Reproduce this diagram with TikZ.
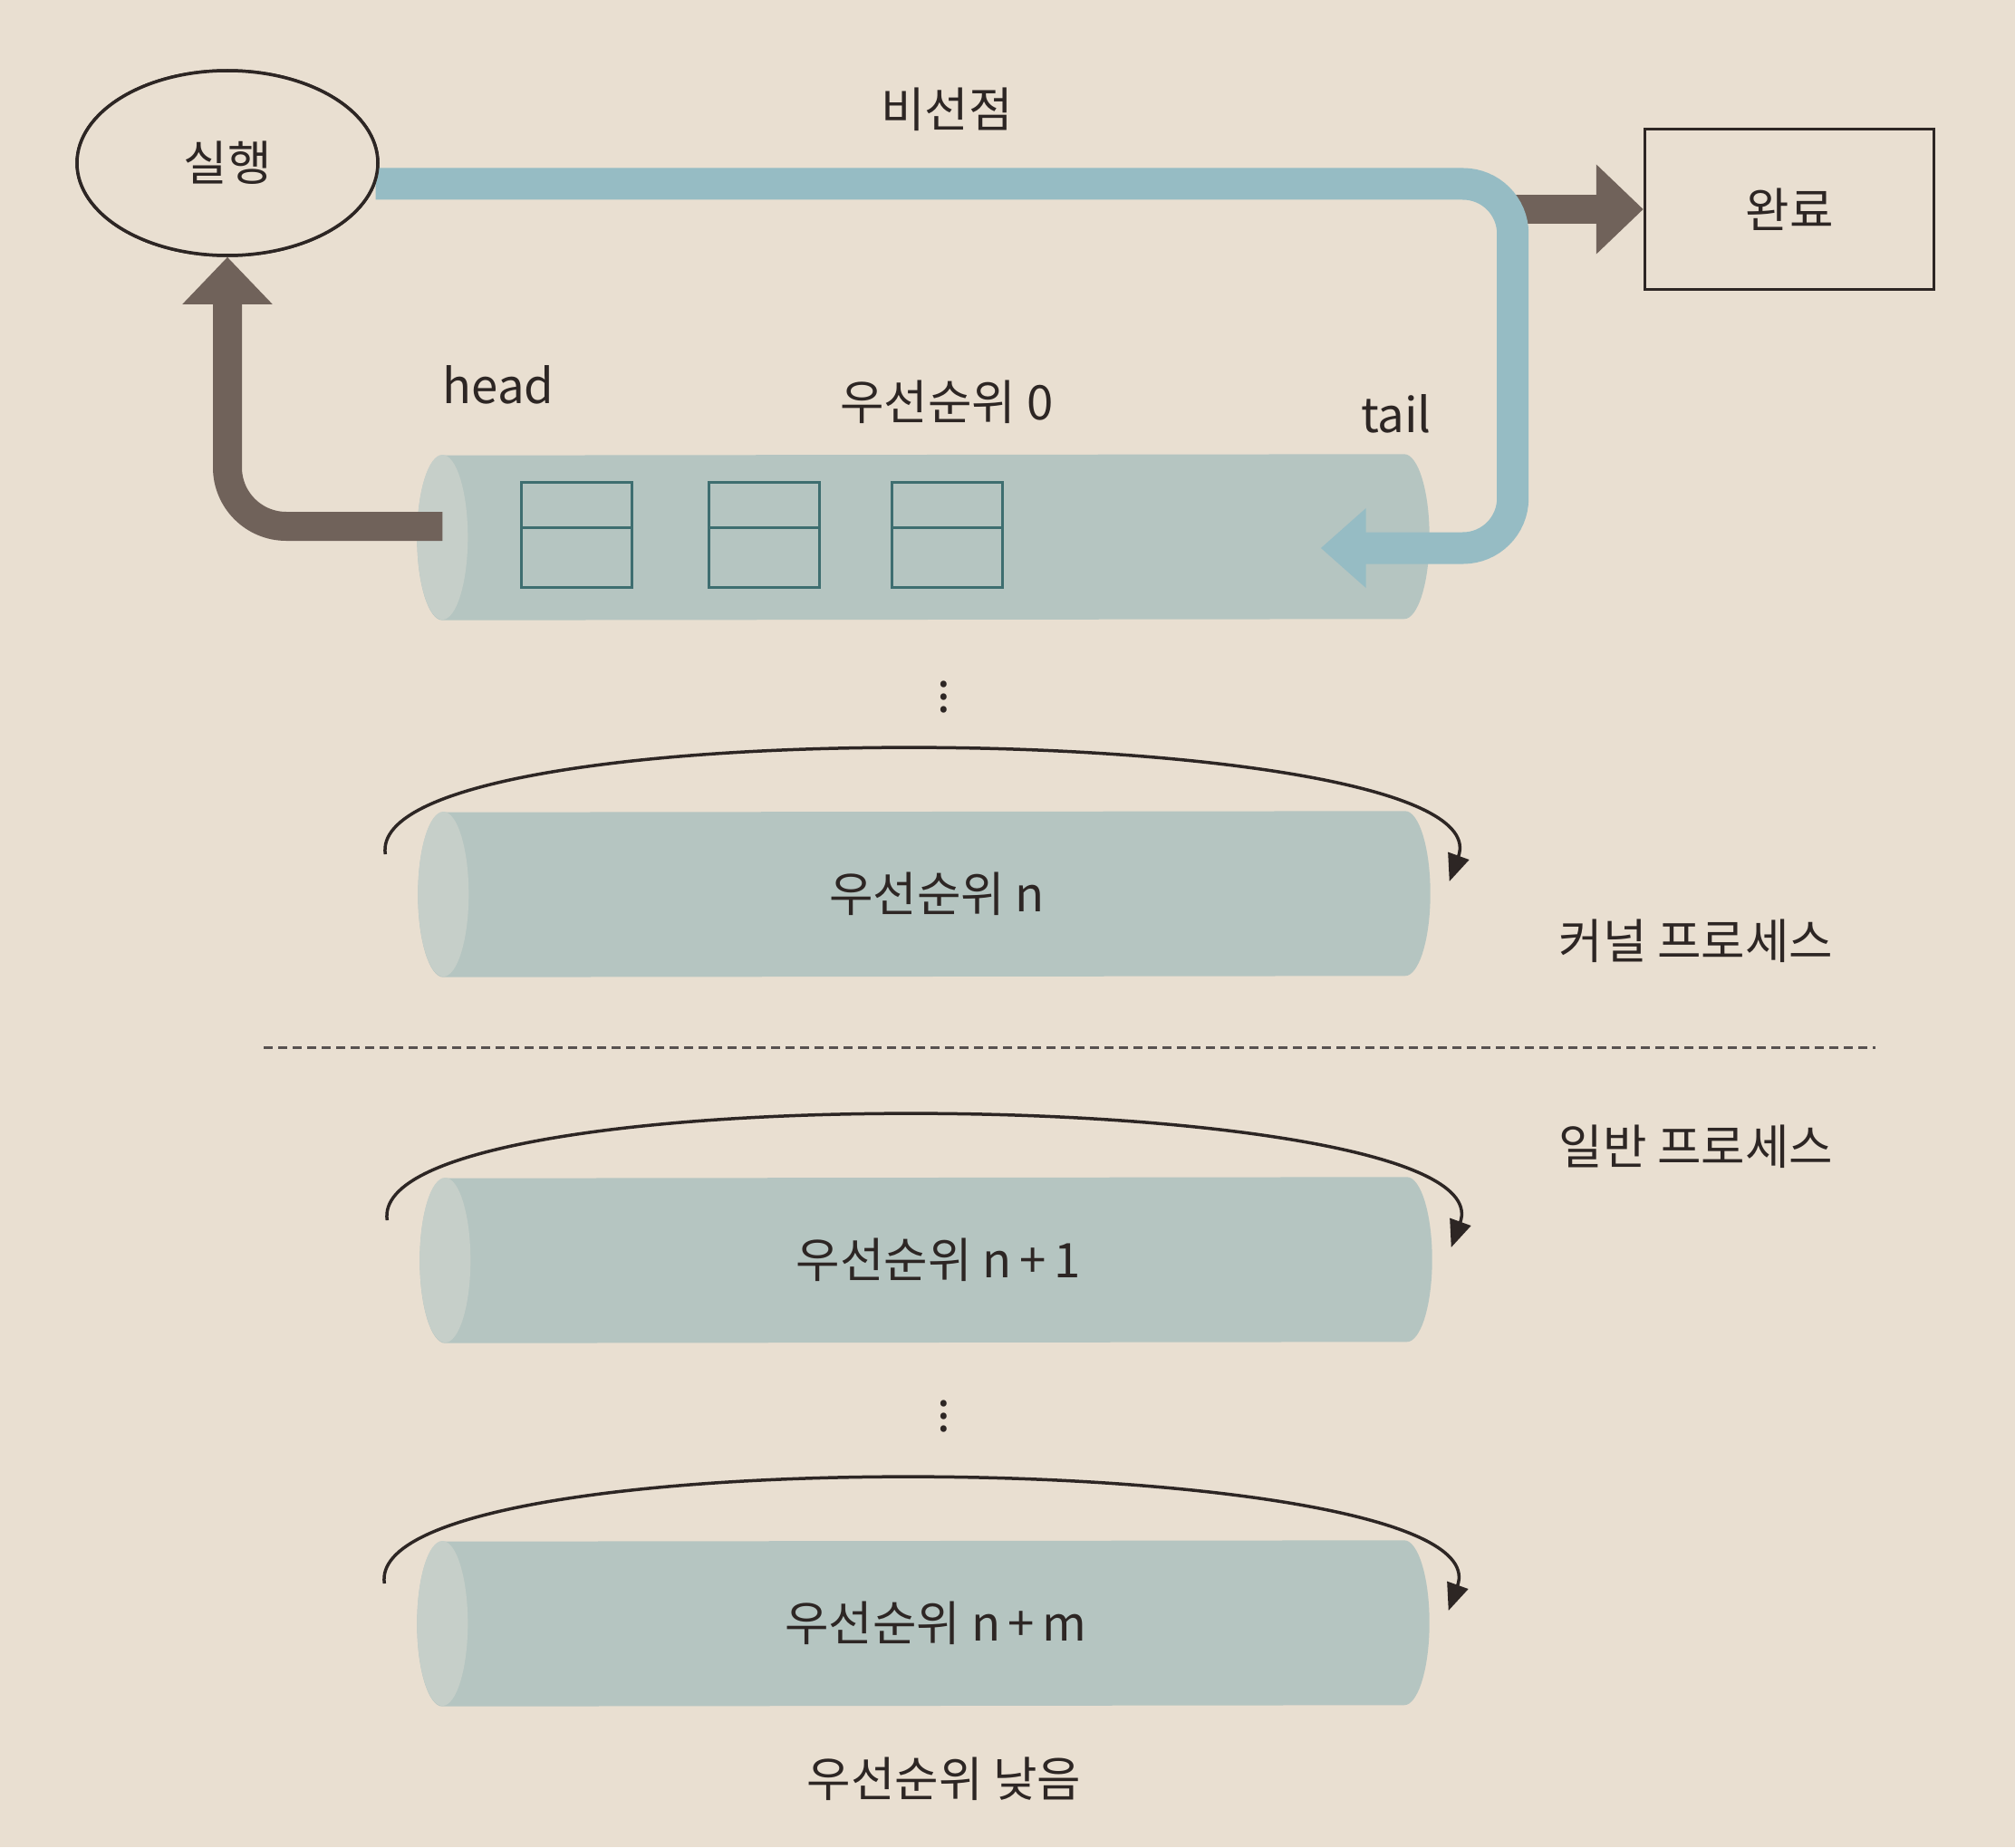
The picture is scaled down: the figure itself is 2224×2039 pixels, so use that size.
\documentclass[tikz,border=0pt]{standalone}
\usepackage{fontspec}
\setmainfont{Noto Sans CJK KR}
\usetikzlibrary{shapes.geometric,arrows.meta,backgrounds}

\definecolor{paper}{RGB}{233,223,209}
\definecolor{ink}{RGB}{45,38,36}
\definecolor{cylbody}{RGB}{181,197,193}
\definecolor{cylend}{RGB}{198,207,201}
\definecolor{flowblue}{RGB}{150,188,196}
\definecolor{flowbrown}{RGB}{112,98,90}
\definecolor{slotline}{RGB}{62,110,112}

\begin{document}
\begin{tikzpicture}[
    x=0.1mm, y=-0.1mm,
    every node/.style={
        text=ink,
        font=\fontsize{15pt}{17pt}\selectfont
    },
    state/.style={
        ellipse,
        draw=ink,
        line width=0.35mm,
        fill=paper,
        minimum width=33.2mm,
        minimum height=20.4mm
    },
    finish/.style={
        rectangle,
        draw=ink,
        line width=0.35mm,
        minimum width=31.9mm,
        minimum height=17.7mm
    },
    queue/.style={
        rectangle,
        inner sep=0pt,
        minimum width=108.8mm,
        minimum height=18.2mm
    },
    slot/.style={
        draw=slotline,
        line width=0.3mm,
        minimum width=12.2mm,
        minimum height=11.6mm,
        inner sep=0pt,
        path picture={
            \draw[slotline, line width=0.3mm]
                ([yshift=0.8mm]path picture bounding box.west) --
                ([yshift=0.8mm]path picture bounding box.east);
        }
    },
    preempt/.style={
        draw=flowblue,
        line width=3.5mm,
        rounded corners=5.5mm,
        -{Triangle[length=5mm,width=8.5mm]}
    },
    grant/.style={
        draw=flowbrown,
        line width=3.2mm,
        rounded corners=6.5mm,
        -{Triangle[length=5.2mm,width=9.6mm]}
    },
    requeue/.style={
        draw=ink,
        line width=0.35mm,
        -{Triangle[length=3mm,width=2.4mm]}
    },
    divider/.style={
        draw=ink!80,
        line width=0.3mm,
        dash pattern=on 1mm off 0.6mm
    }
]

\useasboundingbox (0,0) rectangle (2224,2039);

% Queues
\node[queue] (q0) at (1033,593) {};
\node[queue] (qn) at (1034,987) {우선순위 n};
\node[queue] (qn1) at (1036,1391) {우선순위 n\,+\,1};
\node[queue] (qnm) at (1033,1792) {우선순위 n\,+\,m};

% Paper and queue bodies
\begin{scope}[on background layer]
\fill[paper] (0,0) rectangle (2224,2039);
\foreach \q in {q0,qn,qn1,qnm}{
    \fill[cylbody] ([xshift=-2.8mm]\q.north east)
        arc[start angle=90, end angle=-90, x radius=2.8mm, y radius=9.1mm]
        -- (\q.south west)
        arc[start angle=270, end angle=90, x radius=2.8mm, y radius=9.1mm]
        -- cycle;
    \fill[cylend] (\q.west) ellipse[x radius=2.8mm, y radius=9.1mm];
}
\end{scope}

% Slots in queue 0
\node[slot] (s1) at (636,590) {};
\node[slot] (s2) at (843,590) {};
\node[slot] (s3) at (1045,590) {};

% States
\node[state] (run) at (251,180) {실행};
\node[finish] (done) at (1975,231) {완료};

% Flows
\coordinate (tailin) at ([xshift=-12mm,yshift=-1.2mm]q0.east);
\draw[grant] ([xshift=-15mm]done.west) -- (done.west);
\draw[preempt] (run.-8) -| ([xshift=21.2mm]tailin) -- (tailin);
\draw[grant] ([yshift=1.2mm]q0.west) -| (run.south);
\node[state] at (run) {실행};

% Labels
\node (nonpre) at (1045,121) {비선점};
\node (head) at (550,425) {head};
\node (prio0) at (1045,444) {우선순위 0};
\node (tail) at (1541,457) {tail};
\node (dots1) at (1042,759) {$\vdots$};
\node (dots2) at (1042,1553) {$\vdots$};
\node (kernel) at (1872,1039) {커널 프로세스};
\node (normal) at (1872,1266) {일반 프로세스};
\node (low) at (1042,1964) {우선순위 낮음};

% Divider
\coordinate (sepL) at (291,1156);
\coordinate (sepR) at (2070,1156);
\draw[divider] (sepL) -- (sepR);

% Round robin loops
\foreach \q in {qn,qn1,qnm}{
    \draw[requeue] ([xshift=-6.4mm,yshift=4.4mm]\q.west)
        .. controls +(-25,-165) and +(65,-180) ..
        ([xshift=2.1mm,yshift=1.4mm]\q.east);
}

\end{tikzpicture}
\end{document}
